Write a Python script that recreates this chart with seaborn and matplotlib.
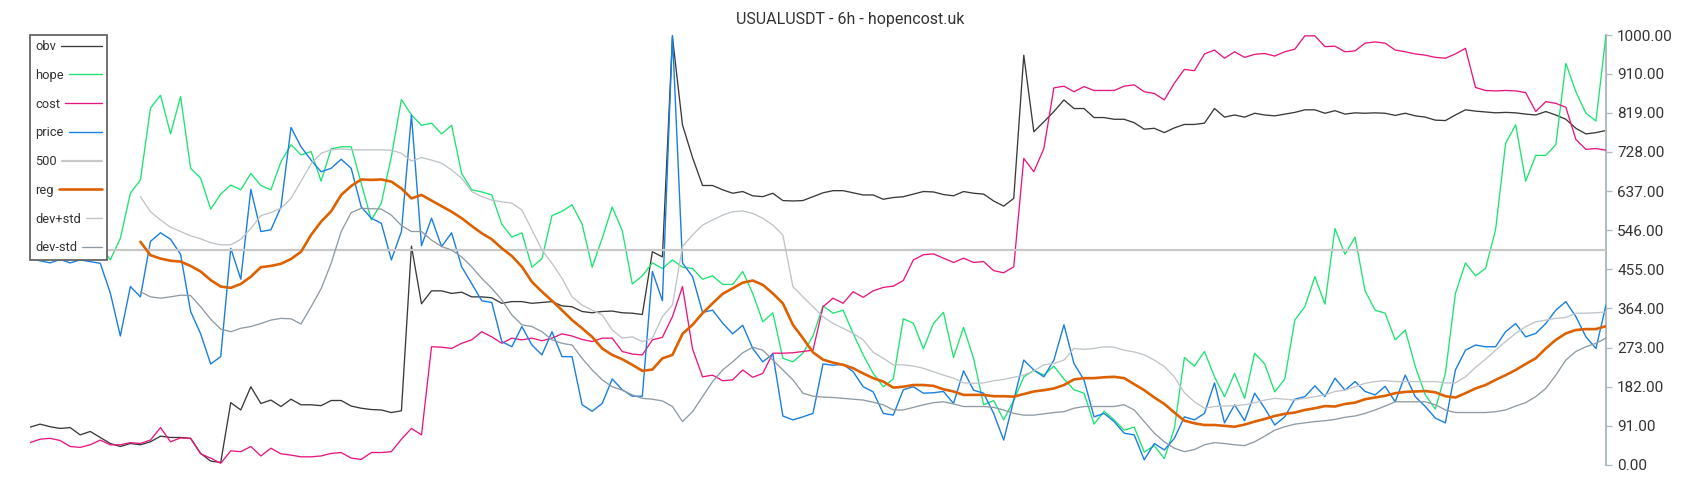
import numpy as np
import pandas as pd
import matplotlib
matplotlib.use("Agg")
import matplotlib.pyplot as plt
from matplotlib.legend_handler import HandlerLine2D
import seaborn as sns

title = "USUALUSDT - 6h - hopencost.uk"

obv = [88, 95, 89, 85, 87, 70, 78, 64, 50, 43,
       50, 47, 54, 67, 64, 64, 62, 27, 9, 6,
       145, 128, 182, 143, 151, 136, 153, 140, 140, 138,
       150, 150, 137, 132, 129, 128, 122, 126, 509, 375,
       405, 405, 399, 402, 391, 391, 389, 376, 380, 380,
       376, 378, 380, 370, 368, 357, 354, 357, 358, 354,
       353, 350, 496, 484, 995, 791, 715, 650, 650, 640,
       632, 636, 626, 624, 632, 615, 614, 615, 624, 633,
       638, 638, 633, 628, 628, 618, 622, 624, 630, 636,
       635, 629, 626, 636, 632, 630, 614, 602, 620, 953,
       775, 798, 822, 849, 829, 829, 808, 808, 804, 804,
       796, 781, 783, 773, 784, 792, 792, 795, 829, 809,
       814, 809, 818, 814, 812, 816, 820, 826, 826, 818,
       824, 816, 819, 818, 819, 818, 813, 818, 812, 809,
       802, 801, 814, 826, 823, 821, 819, 820, 819, 816,
       814, 822, 814, 804, 783, 770, 773, 778]

hope = [500, 520, 545, 510, 530, 560, 540, 510, 477, 527,
        632, 663, 830, 860, 770, 857, 690, 667, 595, 630,
        651, 640, 678, 650, 640, 705, 745, 721, 729, 660,
        735, 740, 740, 655, 570, 609, 717, 850, 814, 790,
        795, 770, 790, 678, 640, 635, 628, 560, 530, 540,
        460, 480, 580, 590, 605, 560, 460, 527, 600, 545,
        421, 440, 470, 457, 477, 460, 457, 432, 440, 420,
        420, 450, 399, 333, 354, 248, 240, 260, 300, 370,
        353, 360, 306, 256, 213, 182, 200, 340, 330, 270,
        329, 355, 250, 320, 248, 140, 150, 105, 150, 205,
        220, 209, 230, 200, 175, 167, 95, 125, 105, 81,
        88, 30, 45, 15, 85, 250, 230, 264, 205, 159,
        213, 155, 260, 235, 170, 200, 337, 368, 438, 374,
        550, 490, 530, 405, 360, 353, 291, 314, 229, 163,
        130, 213, 399, 470, 440, 457, 547, 748, 791, 660,
        720, 720, 745, 934, 868, 818, 800, 1000]

cost = [52, 60, 62, 57, 43, 41, 47, 58, 47, 47,
        52, 50, 58, 87, 54, 63, 62, 26, 16, 4,
        33, 31, 43, 21, 39, 26, 23, 19, 19, 21,
        27, 29, 16, 13, 29, 29, 31, 60, 85, 70,
        275, 274, 271, 283, 291, 310, 298, 283, 295, 291,
        295, 289, 295, 305, 300, 292, 287, 295, 295, 264,
        258, 256, 291, 297, 345, 415, 270, 205, 209, 196,
        198, 221, 204, 213, 260, 260, 261, 264, 267, 368,
        388, 376, 403, 390, 405, 413, 416, 429, 477, 489,
        491, 481, 471, 481, 471, 473, 452, 447, 461, 713,
        682, 736, 877, 881, 868, 880, 871, 871, 871, 881,
        884, 868, 864, 849, 888, 920, 917, 956, 965, 946,
        961, 948, 955, 957, 951, 961, 967, 998, 998, 973,
        974, 961, 963, 981, 984, 981, 965, 961, 956, 953,
        948, 946, 956, 969, 878, 871, 870, 871, 870, 866,
        822, 845, 841, 832, 757, 734, 736, 732]

price = [480, 475, 470, 478, 470, 477, 473, 469, 400, 300,
         415, 391, 520, 540, 525, 490, 357, 305, 235, 252,
         504, 432, 641, 543, 547, 600, 785, 740, 709, 682,
         690, 711, 690, 600, 574, 562, 477, 543, 814, 510,
         574, 508, 540, 461, 422, 382, 378, 287, 275, 322,
         279, 256, 310, 252, 252, 140, 125, 143, 200, 175,
         160, 160, 450, 382, 1000, 470, 438, 355, 360, 330,
         305, 325, 271, 240, 258, 114, 105, 112, 120, 235,
         232, 234, 217, 182, 170, 120, 116, 175, 182, 167,
         168, 171, 143, 219, 174, 167, 120, 58, 151, 244,
         221, 205, 244, 326, 236, 198, 112, 120, 101, 74,
         70, 12, 50, 35, 62, 112, 105, 120, 191, 98,
         140, 103, 167, 132, 93, 112, 153, 159, 184, 159,
         202, 174, 194, 171, 163, 183, 147, 209, 159, 136,
         109, 98, 221, 267, 279, 275, 275, 310, 329, 298,
         306, 329, 360, 380, 345, 298, 271, 372]

nan = float("nan")
reg = [nan] * 11 + [
    519, 488, 480, 475, 473, 463, 450, 430, 415,
    412, 421, 438, 460, 463, 468, 479, 496, 535, 566,
    590, 628, 649, 664, 663, 664, 659, 643, 620, 628,
    615, 602, 589, 574, 556, 539, 525, 504, 486, 461,
    426, 403, 382, 360, 337, 318, 298, 271, 256, 246,
    233, 219, 222, 248, 256, 305, 326, 353, 376, 398,
    411, 424, 429, 419, 399, 376, 326, 295, 262, 245,
    238, 233, 225, 213, 202, 194, 180, 182, 186, 186,
    184, 176, 171, 163, 163, 163, 160, 160, 159, 165,
    171, 174, 178, 186, 199, 202, 202, 204, 205, 202,
    188, 174, 157, 142, 122, 103, 97, 93, 93, 91,
    89, 94, 101, 107, 114, 119, 122, 128, 132, 137,
    136, 142, 145, 153, 157, 161, 167, 170, 171, 172,
    169, 160, 157, 167, 178, 186, 198, 209, 221, 235,
    248, 271, 291, 306, 314, 316, 316, 323]

dev_plus = [nan] * 11 + [
    624, 589, 570, 553, 543, 533, 526, 517, 512,
    512, 525, 550, 580, 587, 597, 620, 660, 700, 725,
    733, 735, 733, 733, 733, 733, 732, 725, 707, 715,
    709, 702, 686, 667, 636, 624, 616, 612, 609, 593,
    547, 500, 469, 434, 391, 372, 360, 349, 314, 295,
    298, 287, 295, 345, 372, 508, 535, 558, 570, 581,
    589, 591, 585, 574, 558, 535, 415, 391, 368, 345,
    329, 318, 306, 291, 262, 248, 233, 233, 230, 225,
    217, 209, 202, 191, 190, 191, 196, 199, 204, 209,
    219, 233, 236, 244, 271, 269, 271, 275, 274, 267,
    263, 256, 244, 229, 205, 168, 147, 132, 136, 137,
    138, 140, 145, 151, 155, 153, 151, 155, 159, 163,
    171, 174, 182, 190, 194, 196, 194, 194, 194, 194,
    194, 191, 191, 205, 227, 246, 267, 287, 306, 322,
    333, 337, 341, 343, 353, 353, 354, 356]

dev_minus = [nan] * 11 + [
    403, 391, 388, 391, 395, 394, 368, 339, 316,
    310, 318, 322, 329, 337, 341, 340, 328, 368, 410,
    469, 543, 587, 597, 596, 595, 581, 557, 543, 543,
    523, 508, 500, 484, 461, 434, 411, 384, 349, 326,
    322, 310, 291, 283, 279, 248, 221, 198, 182, 174,
    163, 155, 153, 149, 136, 101, 124, 159, 194, 221,
    240, 261, 274, 267, 244, 221, 198, 167, 160, 158,
    157, 155, 153, 151, 146, 140, 128, 128, 134, 140,
    145, 147, 142, 136, 136, 136, 134, 128, 120, 116,
    116, 119, 122, 124, 132, 136, 136, 136, 136, 140,
    128, 101, 74, 54, 39, 31, 36, 47, 52, 50,
    47, 45, 54, 67, 81, 89, 95, 98, 101, 103,
    106, 111, 114, 120, 128, 137, 147, 147, 147, 147,
    140, 128, 122, 122, 122, 122, 124, 128, 137, 145,
    159, 178, 209, 244, 264, 275, 283, 295]

level_500 = 500
ytick_values = [0, 91, 182, 273, 364, 455, 546, 637, 728, 819, 910, 1000]

sns.set_style("white")
plt.rcParams["font.family"] = ["Roboto", "DejaVu Sans"]

n = len(obv)
idx = np.arange(n)
df = pd.DataFrame({
    "i": idx, "obv": obv, "hope": hope, "cost": cost, "price": price,
    "500": [level_500] * n, "reg": reg, "dev+std": dev_plus, "dev-std": dev_minus,
})

styles = [
    ("obv", "#3a3a3a", 0.95),
    ("hope", "#1de371", 0.95),
    ("cost", "#e8177f", 0.95),
    ("price", "#1a7fe0", 1.0),
    ("500", "#c8c8c8", 1.6),
    ("reg", "#dc6100", 1.9),
    ("dev+std", "#bfc4c8", 0.95),
    ("dev-std", "#8f9ba4", 0.95),
]

fig = plt.figure(figsize=(17, 5), dpi=100)
ax = fig.add_axes([30 / 1700, 35 / 500, (1606 - 30) / 1700, 430 / 500])

for k, (name, color, lw) in enumerate(styles):
    sns.lineplot(data=df, x="i", y=name, ax=ax, color=color, linewidth=lw,
                 label=name, zorder=2 + k)

ax.set_xlim(0, n - 1)
ax.set_ylim(0, 1000)
ax.set_xlabel("")
ax.set_ylabel("")
ax.set_xticks([])
ax.yaxis.tick_right()
ax.set_yticks(ytick_values)
ax.set_yticklabels([f"{v:.2f}" for v in ytick_values])
ax.tick_params(axis="y", direction="out", length=4, width=1, color="#b0bbc3",
               labelsize=11, labelcolor="#333333", pad=4)
for side in ["left", "top", "bottom"]:
    ax.spines[side].set_visible(False)
ax.spines["right"].set_color("#b0bbc3")
ax.spines["right"].set_linewidth(1.5)


class VarLenHandler(HandlerLine2D):
    def __init__(self, length_pts, **kw):
        super().__init__(**kw)
        self.length_pts = length_pts

    def legend_artist(self, legend, orig_handle, fontsize, handlebox):
        handlebox.width = self.length_pts
        return super().legend_artist(legend, orig_handle, fontsize, handlebox)


leg_fs = 9.3
leg_kw = dict(loc="upper left", bbox_to_anchor=(0, 1), borderaxespad=0,
              markerfirst=False, frameon=True, fancybox=False,
              edgecolor="#666666", framealpha=1, fontsize=leg_fs,
              labelspacing=1.22, handletextpad=0.4, borderpad=0.4)

handles, labels = ax.get_legend_handles_labels()
tmp = ax.legend(handles, labels, handlelength=2.0, **leg_kw)
fig.canvas.draw()
renderer = fig.canvas.get_renderer()
text_w = [t.get_window_extent(renderer).width for t in tmp.get_texts()]
tmp.remove()

inner_px = 67.0
gap_px = 0.4 * leg_fs * 100 / 72
hmap = {}
for h, w in zip(handles, text_w):
    hmap[h] = VarLenHandler(max(inner_px - w - gap_px, 10) * 72 / 100)

leg = ax.legend(handles, labels, handlelength=2.0, handler_map=hmap, **leg_kw)
leg.get_frame().set_linewidth(1.3)
leg.set_zorder(20)
for t in leg.get_texts():
    t.set_color("#333333")

fig.text(0.5, 1 - 19.5 / 500, title, ha="center", va="center",
         fontsize=11.5, color="#333333")

fig.savefig("out.png", dpi=100)
